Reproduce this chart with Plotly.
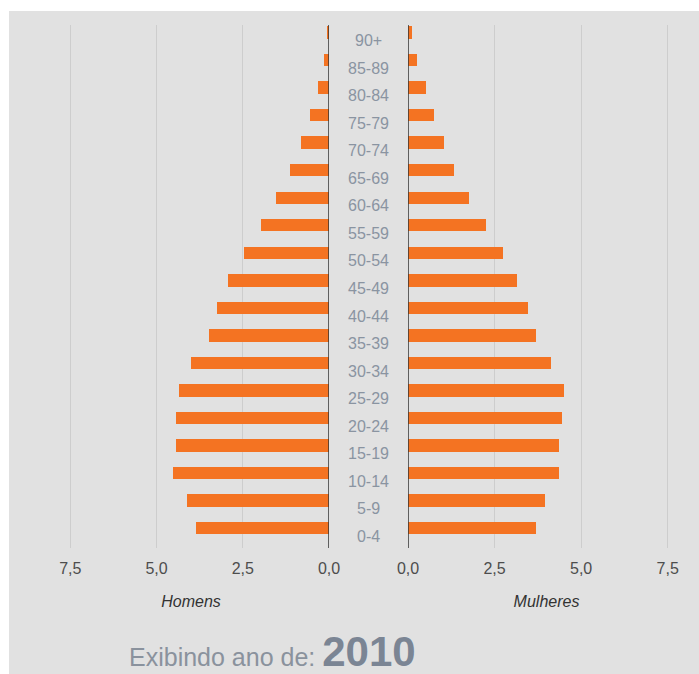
import plotly.graph_objects as go

ages = ["0-4", "5-9", "10-14", "15-19", "20-24", "25-29", "30-34", "35-39", "40-44",
        "45-49", "50-54", "55-59", "60-64", "65-69", "70-74", "75-79", "80-84", "85-89", "90+"]
homens = [3.85, 4.12, 4.53, 4.44, 4.44, 4.34, 3.99, 3.49, 3.26,
          2.92, 2.46, 1.98, 1.53, 1.12, 0.81, 0.54, 0.33, 0.14, 0.05]
mulheres = [3.69, 3.96, 4.36, 4.36, 4.46, 4.50, 4.14, 3.69, 3.47,
            3.16, 2.75, 2.26, 1.77, 1.32, 1.05, 0.74, 0.52, 0.25, 0.12]
ticks = [0, 2.5, 5.0, 7.5]
tick_text = ["0,0", "2,5", "5,0", "7,5"]
ano = "2010"

ORANGE = "#f47322"
BG = "#e1e1e1"
FONT = "Liberation Sans, Arial, sans-serif"

W, H = 699, 674
ml, mr, mt, mb = 53, 14, 25, 126
pw, ph = W - ml - mr, H - mt - mb

fig = go.Figure()
fig.add_trace(go.Bar(y=ages, x=homens, orientation="h", xaxis="x", yaxis="y",
                     marker=dict(color=ORANGE, line=dict(width=0)), width=0.45, offset=0,
                     name="Homens", hoverinfo="x+y"))
fig.add_trace(go.Bar(y=ages, x=mulheres, orientation="h", xaxis="x2", yaxis="y2",
                     marker=dict(color=ORANGE, line=dict(width=0)), width=0.45, offset=0,
                     name="Mulheres", hoverinfo="x+y"))

xl0 = (329 - ml) / pw
xr0 = (408 - ml) / pw
axis_common = dict(tickvals=ticks, ticktext=tick_text, showgrid=True,
                   gridcolor="#cdcdcd", gridwidth=1, zeroline=False, showline=False,
                   ticks="", ticklabelstandoff=9, automargin=False,
                   tickfont=dict(size=16, color="#4d4d4d", family=FONT),
                   fixedrange=True)
title_font = dict(size=16, color="#333333", family=FONT)
fig.update_layout(
    width=W, height=H, autosize=False,
    margin=dict(l=ml, r=mr, t=mt, b=mb, autoexpand=False),
    paper_bgcolor="white", plot_bgcolor="rgba(0,0,0,0)",
    showlegend=False, barmode="overlay", bargap=0,
    font=dict(family=FONT),
    xaxis=dict(domain=[0, xl0], range=[8, 0], **axis_common,
               title=dict(text="<i>Homens</i>", font=title_font, standoff=19)),
    xaxis2=dict(domain=[xr0, 1], range=[0, 8], **axis_common,
                title=dict(text="<i>Mulheres</i>", font=title_font, standoff=19)),
    yaxis=dict(anchor="x", showticklabels=False, showgrid=False, zeroline=False, ticks="",
               automargin=False,
               categoryorder="array", categoryarray=ages, range=[-0.5, len(ages) - 0.5], fixedrange=True),
    yaxis2=dict(anchor="x2", showticklabels=False, showgrid=False, zeroline=False, ticks="",
                automargin=False,
                categoryorder="array", categoryarray=ages, range=[-0.5, len(ages) - 0.5], fixedrange=True),
)

# background panel
fig.add_shape(type="rect", xref="paper", yref="paper", layer="below",
              x0=(9 - ml) / pw, x1=(W + 5 - ml) / pw, y0=-(mb + 5) / ph, y1=(H - mb - 11) / ph,
              fillcolor=BG, line=dict(width=0))
# zero lines
fig.add_shape(type="line", xref="x", yref="paper", x0=0, x1=0, y0=0, y1=1,
              line=dict(color="#333333", width=1.5))
fig.add_shape(type="line", xref="x2", yref="paper", x0=0, x1=0, y0=0, y1=1,
              line=dict(color="#333333", width=1.5))

# age labels in the middle
xm = (368.5 - ml) / pw
for a in ages:
    fig.add_annotation(x=xm, y=a, xref="paper", yref="y", text=a, showarrow=False, yshift=-2,
                       font=dict(size=16, color="#8a94a1", family=FONT), xanchor="center", yanchor="middle")

fig.add_annotation(x=(272 - ml) / pw, y=-(651 - (mt + ph)) / ph,
                   xref="paper", yref="paper", showarrow=False, xanchor="center", yanchor="middle",
                   text="Exibindo ano de: <b><span style='font-size:42px;color:#7b8594'>" + ano + "</span></b>",
                   font=dict(size=25, color="#8a929d", family=FONT))

fig.write_html("out.html", config={"displayModeBar": False, "responsive": False},
               post_script="document.body.style.margin='0';document.body.style.overflow='hidden';")
